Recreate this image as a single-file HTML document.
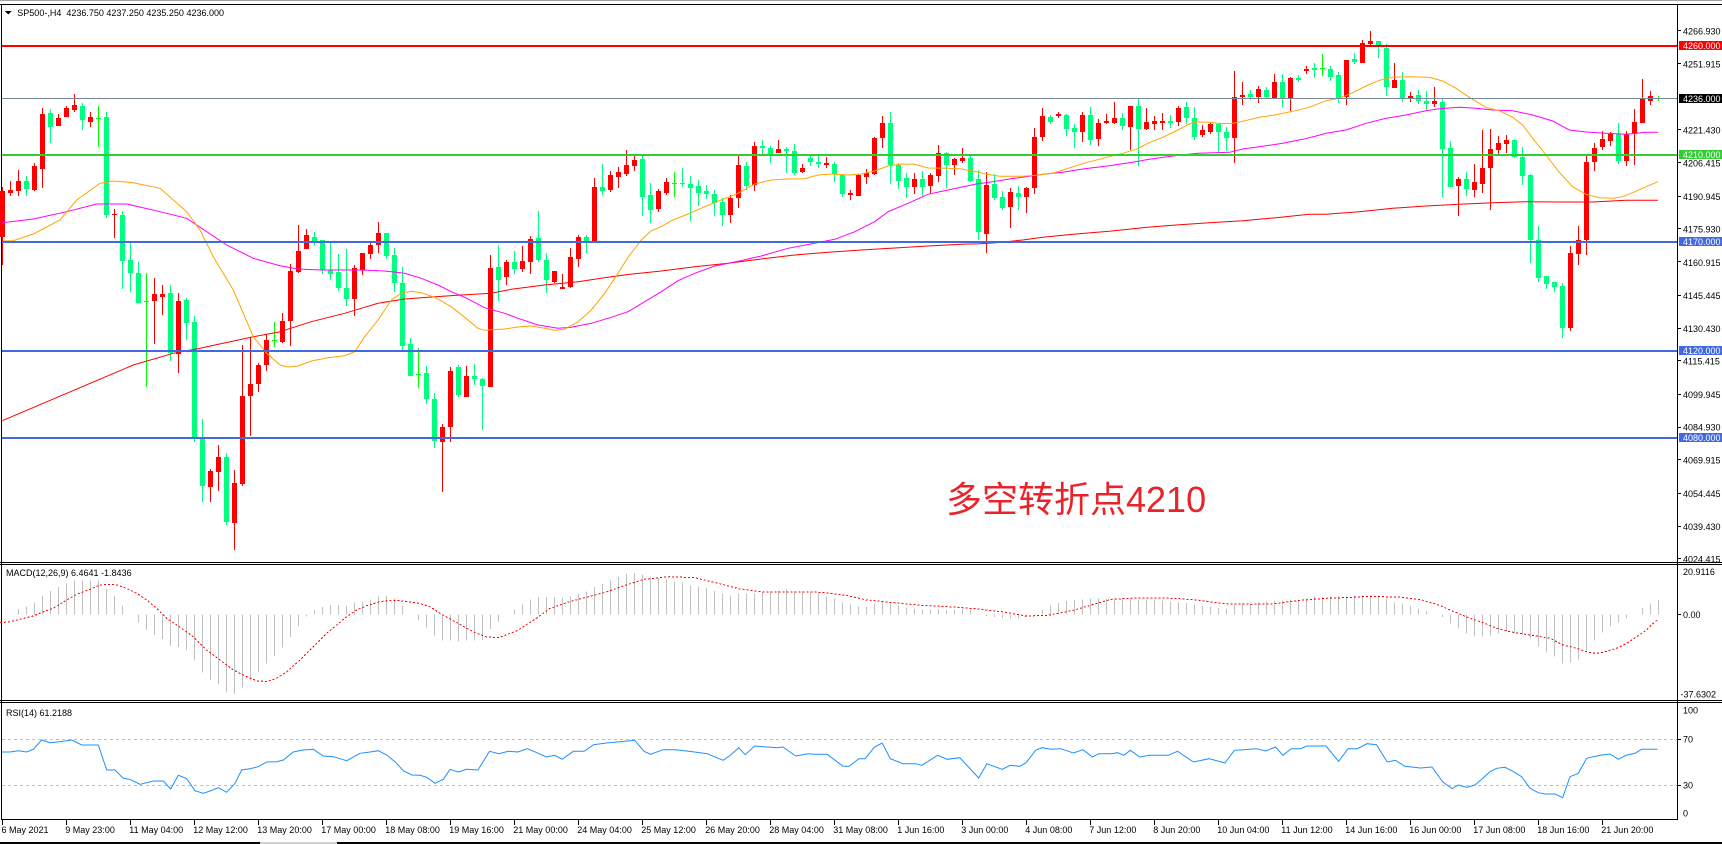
<!DOCTYPE html>
<html><head><meta charset="utf-8"><style>
html,body{margin:0;padding:0;background:#fff;}
svg{display:block;}
text{font-family:"Liberation Sans","Noto Sans CJK SC",sans-serif;font-size:9px;fill:#000;}
.w{fill:#fff;}
</style></head><body>
<svg id="S" width="1722" height="844" viewBox="0 0 1722 844" xmlns="http://www.w3.org/2000/svg" shape-rendering="crispEdges">
<rect x="0" y="0" width="1722" height="844" fill="#fff"/>
<rect x="0" y="0" width="1722" height="1" fill="#a0a0a0"/>
<rect x="0" y="4" width="1722" height="1" fill="#000"/>
<rect x="1" y="4" width="1" height="816" fill="#000"/>
<rect x="1677" y="4" width="1" height="816" fill="#000"/>
<rect x="0" y="562" width="1722" height="1" fill="#000"/>
<rect x="0" y="564" width="1722" height="1" fill="#000"/>
<rect x="0" y="700" width="1722" height="1" fill="#000"/>
<rect x="0" y="702" width="1722" height="1" fill="#000"/>
<rect x="1" y="819" width="1677" height="1" fill="#000"/>
<rect x="0" y="842" width="1722" height="2" fill="#000"/>
<rect x="260" y="842" width="77" height="2" fill="#d0d0d0"/>

<!-- header -->
<path d="M5 11 L11.5 11 L8.25 14.5 Z" fill="#000"/>
<text x="17.3" y="16" xml:space="preserve">SP500-,H4  4236.750 4237.250 4235.250 4236.000</text>

<g id="cand"></g>

<g fill="none" stroke-width="1" shape-rendering="auto">
<polyline stroke="#ff0000" points="2.3,420.7 66.7,393.3 133.3,365 173.3,353.3 200,348.3 253.3,336.7 279,332 311.3,321.7 344.7,313.3 378,303.3 404.7,299 428,297.3 461.3,295 491.3,293.3 511.3,289.3 544.7,285 578,281.7 611.3,276.7 630,274.3 661.3,271 694.7,266.7 728,263.3 761.3,259 794.7,255 828,252.3 861.3,250 894.7,248 928,246 961.3,244.3 980,243.7 996,242.7 1022.7,240 1042.7,237.3 1076,234 1109.3,231.3 1142.7,227.7 1176,225 1209.3,222.7 1242.7,220.7 1276,217.7 1309.3,214.3 1326,214.3 1359.3,211.7 1392.7,208.3 1426,206 1459.3,204.3 1492.7,202.7 1526,201.7 1559.3,202 1592.7,202 1626,200.3 1658,200.3"/>
<polyline stroke="#ff00ff" points="2.3,222.7 33.3,219 66.7,211.7 96.7,204 126.7,204 160,211.7 186.7,218.3 206.7,231.7 226.7,245 253.3,258.3 280,265.7 298,269 321.3,270 361.3,270 384.7,271 404.7,273.3 421.3,278.3 438,285 451.3,291.7 464.7,297.3 484.7,307.7 504.7,313.3 518,318.3 538,325 558,328.3 571.3,327.3 591.3,323.3 611.3,317.3 628,311.7 644.7,301.7 661.3,291.7 678,280.7 694.7,273.3 714.7,266 734.7,262 761.3,256 788,248.3 814.7,243.3 834.7,239.3 854.7,231.7 874.7,221.7 888,211.7 908,203.3 928,194.3 948,190 968,185.7 976,184 992.7,181.7 1009.3,179 1026,176.7 1042.7,174.3 1062.7,172.3 1082.7,169 1109.3,165.7 1129.3,162.7 1149.3,159.3 1172.7,156 1197.7,153.3 1229.3,152.3 1242.7,149 1262.7,146.3 1282.7,143.3 1302.7,139.3 1316,136 1326,133.3 1346,130 1366,123.3 1386,118.3 1406,115 1426,110.7 1439.3,108.7 1459.3,107.3 1476,108.3 1492.7,110 1512.7,110.7 1532.7,115 1552.7,121 1569.3,130 1586,132 1606,133.3 1626,134.3 1646,132.3 1658,132.3"/>
<polyline stroke="#ffa500" points="3,241 13.3,240.7 33.3,234 60,220 76.7,200 100,183.3 113.3,181 133.3,182.7 160,188.3 173.3,200 186.7,211.7 200,230 213.3,256.7 233.3,290 253.3,336.7 266.7,353.3 280,365 288,367 298,366 311.3,361 328,357.7 344.7,355.7 354.7,351.7 364.7,336.7 378,320 391.3,300 401.3,293.3 411.3,291.3 421.3,292.7 434.7,297.3 451.3,306.7 464.7,317.3 478,328.3 484.7,330.3 504.7,329 518,327 531.3,326 544.7,328.3 554.7,330.3 564.7,329.3 578,321.7 591.3,310 604.7,293.3 618,273.3 628,257.3 641.3,240 651.3,230.7 661.3,226.7 671.3,220.7 688,214 704.7,206.7 721.3,200 738,193.3 754.7,184 771.3,180 788,179 804.7,178.7 818,175 831.3,174 848,175 861.3,174 874.7,171 888,166 901.3,164 914.7,164.3 928,168 948,168.3 961.3,169 976,171.7 986,174 999.3,176.3 1022.7,176.3 1036,175.3 1052.7,173.3 1066,169 1086,162.7 1109.3,156.7 1122.7,153.3 1136,149.3 1142.7,146 1149.3,142.7 1162.7,137.3 1176,131 1189.3,124 1196,122 1209.3,122.3 1222.7,123.7 1232.7,123.3 1242.7,121.3 1259.3,117.3 1276,114.7 1292.7,111.3 1309.3,107.3 1319.3,103.3 1326,100.7 1339.3,98.3 1352.7,92.7 1366,86 1379.3,80.3 1392.7,77.3 1409.3,76.7 1429.3,77.3 1442.7,81 1456,88.3 1469.3,97.3 1486,107.3 1499.3,110.7 1512.7,117.3 1522.7,125 1532.7,138.3 1546,155 1559.3,172.3 1572.7,186.7 1586,194.3 1599.3,197.7 1612.7,198.3 1622.7,196.7 1632.7,192.7 1646,186.7 1658,181.7"/>
</g>

<!-- horizontal levels -->
<rect x="2" y="98" width="1675" height="1" fill="#778899"/>
<rect x="2" y="45" width="1675" height="2" fill="#ff0000"/>
<rect x="2" y="154" width="1675" height="2" fill="#32cd32"/>
<rect x="2" y="241" width="1675" height="2" fill="#4169e1"/>
<rect x="2" y="350" width="1675" height="2" fill="#4169e1"/>
<rect x="2" y="437" width="1675" height="2" fill="#4169e1"/>

<!-- big annotation -->
<text x="946" y="512" style="font-size:36px;fill:#e8232a;font-family:'Liberation Sans','Noto Sans CJK SC',sans-serif;">多空转折点4210</text>

<!-- price axis ticks -->
<g fill="#000">
<rect x="1677" y="30" width="4" height="1"/><rect x="1677" y="63" width="4" height="1"/>
<rect x="1677" y="129" width="4" height="1"/><rect x="1677" y="162" width="4" height="1"/>
<rect x="1677" y="196" width="4" height="1"/><rect x="1677" y="228" width="4" height="1"/>
<rect x="1677" y="261" width="4" height="1"/><rect x="1677" y="295" width="4" height="1"/>
<rect x="1677" y="328" width="4" height="1"/><rect x="1677" y="360" width="4" height="1"/>
<rect x="1677" y="394" width="4" height="1"/><rect x="1677" y="427" width="4" height="1"/>
<rect x="1677" y="459" width="4" height="1"/><rect x="1677" y="493" width="4" height="1"/>
<rect x="1677" y="526" width="4" height="1"/><rect x="1677" y="558" width="4" height="1"/>
<rect x="1677" y="614" width="4" height="1"/>
<rect x="1677" y="739" width="4" height="1"/><rect x="1677" y="785" width="4" height="1"/>
</g>
<text x="1683" y="34.5">4266.930</text>
<text x="1683" y="67.3">4251.915</text>
<text x="1683" y="133.4">4221.430</text>
<text x="1683" y="166.4">4206.415</text>
<text x="1683" y="199.8">4190.945</text>
<text x="1683" y="232.6">4175.930</text>
<text x="1683" y="265.8">4160.915</text>
<text x="1683" y="298.8">4145.445</text>
<text x="1683" y="331.8">4130.430</text>
<text x="1683" y="364.6">4115.415</text>
<text x="1683" y="398">4099.945</text>
<text x="1683" y="430.6">4084.930</text>
<text x="1683" y="463.6">4069.915</text>
<text x="1683" y="497">4054.445</text>
<text x="1683" y="530">4039.430</text>
<text x="1683" y="562.6">4024.415</text>

<!-- level labels -->
<rect x="1679" y="41" width="43" height="9" fill="#ff0000"/><text class="w" x="1683" y="49">4260.000</text>
<rect x="1679" y="94" width="43" height="9" fill="#000"/><text class="w" x="1683" y="102">4236.000</text>
<rect x="1679" y="150" width="43" height="9" fill="#32cd32"/><text class="w" x="1683" y="158">4210.000</text>
<rect x="1679" y="237" width="43" height="9" fill="#4169e1"/><text class="w" x="1683" y="245">4170.000</text>
<rect x="1679" y="346" width="43" height="9" fill="#4169e1"/><text class="w" x="1683" y="354">4120.000</text>
<rect x="1679" y="433" width="43" height="9" fill="#4169e1"/><text class="w" x="1683" y="441">4080.000</text>

<!-- MACD -->
<text x="6" y="576">MACD(12,26,9) 6.4641 -1.8436</text>
<g id="macd"></g>
<polyline fill="none" stroke="#ff0000" stroke-width="1" stroke-dasharray="2,2" points="0,622.7 10,621.7 20,619.3 33.3,616 43.3,611.7 53.3,608.3 66.7,600 76.7,594.3 90,589.3 100,585 110,584.3 116.7,585 126.7,588.3 136.7,593.3 146.7,600 156.7,608.3 166.7,618.3 180,627.3 193.3,636.7 206.7,650 220,660 233.3,670 246.7,676.7 256.7,680.7 266.7,681.7 276.7,678.3 286.7,671.7 300,660 313.3,646.7 326.7,633.3 336.7,625 346.7,616.7 356.7,610 366.7,605.7 380,601.7 390,600.3 400,600.7 416.7,602.7 430,606.7 440,613.3 453.3,620.7 466.7,628.3 476.7,633.3 486.7,637 498.9,637.7 517.9,630.3 536.8,618 549.4,608.7 568.4,602 587.3,597 606.3,592 625.2,585.3 644.1,579.3 669.4,576.7 694.6,577.7 719.9,583.7 738.8,588.7 764.1,592 795.7,592 820.9,592.3 846.2,595.3 865.1,599.7 896.7,603 921.9,605.3 953.5,607 978.7,609 1004,612 1026.1,616 1048.2,615.3 1073.4,610.3 1092.4,604.7 1111.3,599.3 1136.6,598 1174.5,598.3 1199.7,600.3 1225,603.7 1250.3,604.3 1275.5,603.7 1300.8,600.3 1326,598.3 1351.3,597.3 1370.2,596.3 1401.8,597.3 1420.7,599.7 1439.6,605.3 1450,610 1460,614 1470,618.3 1483.3,622.7 1496.7,628.3 1510,631.7 1523.3,634 1536.7,636 1550,638.3 1563.3,645 1576.7,648.3 1586.7,651.7 1593.3,653.3 1603.3,652.3 1616.7,648.3 1626.7,643.3 1636.7,636.7 1646.7,630 1653.3,623.3 1658.3,619.3"/>
<text x="1683" y="575">20.9116</text>
<text x="1683" y="618">0.00</text>
<text x="1680.5" y="697.3">-37.6302</text>

<!-- RSI -->
<text x="6" y="716">RSI(14) 61.2188</text>
<line x1="2" y1="739.5" x2="1677" y2="739.5" stroke="#c0c0c0" stroke-width="1" stroke-dasharray="3,3"/>
<line x1="2" y1="785.5" x2="1677" y2="785.5" stroke="#c0c0c0" stroke-width="1" stroke-dasharray="3,3"/>
<g id="rsi"></g>
<text x="1683" y="713.5">100</text>
<text x="1683" y="742.5">70</text>
<text x="1683" y="788.5">30</text>
<text x="1683" y="816.5">0</text>

<!-- time axis -->
<g id="tt" fill="#000"></g>
<text x="1.5" y="833">6 May 2021</text>
<text x="65.3" y="833">9 May 23:00</text>
<text x="129.3" y="833">11 May 04:00</text>
<text x="193.3" y="833">12 May 12:00</text>
<text x="257.3" y="833">13 May 20:00</text>
<text x="321.3" y="833">17 May 00:00</text>
<text x="385.3" y="833">18 May 08:00</text>
<text x="449.3" y="833">19 May 16:00</text>
<text x="513.3" y="833">21 May 00:00</text>
<text x="577.3" y="833">24 May 04:00</text>
<text x="641.3" y="833">25 May 12:00</text>
<text x="705.3" y="833">26 May 20:00</text>
<text x="769.3" y="833">28 May 04:00</text>
<text x="833.3" y="833">31 May 08:00</text>
<text x="897.3" y="833">1 Jun 16:00</text>
<text x="961.3" y="833">3 Jun 00:00</text>
<text x="1025.3" y="833">4 Jun 08:00</text>
<text x="1089.3" y="833">7 Jun 12:00</text>
<text x="1153.3" y="833">8 Jun 20:00</text>
<text x="1217.3" y="833">10 Jun 04:00</text>
<text x="1281.3" y="833">11 Jun 12:00</text>
<text x="1345.3" y="833">14 Jun 16:00</text>
<text x="1409.3" y="833">16 Jun 00:00</text>
<text x="1473.3" y="833">17 Jun 08:00</text>
<text x="1537.3" y="833">18 Jun 16:00</text>
<text x="1601.3" y="833">21 Jun 20:00</text>
</svg>
<script>
(function(){
var D="186.7 191 236.7 265 r|181 190 193.3 196 r|170 181 190.7 195.7 r|176 181 189 195.7 g|163.3 166 190 191 r|108.3 114 168.7 187.7 r|109.3 113 127 142.7 g|114 118 125.7 126 r|106 108.3 116.7 117 r|94 105 110 111.7 r|103.3 106 120 129.7 g|112.3 117 121.7 126.7 r|106 117.7 117.7 147 d|112 117 214.7 217.7 g|209 213.7 215.3 237.7 r|211.3 215 260.7 288.7 g|242.7 259.7 273 291.7 g|262.3 273 302.7 303 g|273.3 301.3 301.3 386.7 d|278 294 300.7 343.7 r|285.3 294 296.7 315 r|285.3 293 353.3 360.7 g|293.3 300.7 354 372.7 r|297.7 300 322.7 340 g|316 322 438.3 441.7 g|419 438.3 485.7 501.7 g|469 471 486.7 501.7 r|445 457 471.7 491 r|453.3 457 522 525 g|470 482.7 522.7 550 r|345 396 484 485.7 r|336.7 384 395.7 436 r|362.7 365 384 391.7 r|334 340 365 371 r|322 340 340 346.7 d|312.7 320.7 342 343.3 r|264 270.7 320.7 345.7 r|225 251 272 272.7 r|229 235 249 249 r|232 237 241.3 244.7 g|240.3 240.3 270.3 274 g|242.3 270.3 273.7 280 g|253.7 272 288 291 g|249 288 299 306 g|265 268 299 315.7 r|253 253 270 275 r|243 244.7 253.7 259 r|222 233 244.7 252.7 r|233 233 255.7 259 g|248 255 282.7 291.7 g|267 282.7 345.7 350 g|338 344 375.7 375.7 g|347.7 373.7 373.7 387.7 d|365.7 373 399 404.3 g|392.7 399 440.7 447.7 g|424 427 441.7 491.7 r|366.7 371 427 441.7 r|365 367 395 397 g|365.7 376 396.7 396.7 r|364 376 379 385 g|377.7 379 386 430 g|255 268 386.7 386.7 r|245 267 280 300.7 g|260 262 276.7 284.7 r|251 262 269 274 g|246 261 269 272.3 r|236 239 262 274 r|211 238 260 262 g|253 260 280 292.7 g|271 271 282 283.3 r|274 287 289 289 r|248 257 287.3 288 r|235 237 259 266.7 r|235 237 241.3 252.7 g|178 187 241.3 241.3 r|164 187 190.7 195 g|171 175 190 192 r|167.3 172 177 187.7 r|150 165 174 176 r|156 160 166 170.7 r|156 159 196.7 215.7 g|183 195 209.7 223 g|189 191 208.7 211.7 r|178 182 193 195 r|172 183.3 183.3 196.7 d|168 183 184.3 187.3 g|176 184 187.7 220.7 g|180 186 192.7 205.7 g|185 191 193.7 198.7 g|190 194 202.7 215.7 g|197.7 202 215 225.7 g|195 197.7 214.7 223 r|156 165 197.7 207.7 r|162 166 185.7 189.7 g|142 146 185 190.7 r|140 146 147.7 155 g|146 148 154 163 g|140 149 153 153 r|147 149 150.7 173 g|144 151 173 175 g|164 168 172 173 r|155 158 162 166 g|156 162 164 168 g|157 163 165 168 r|162 164 174 182 g|174 175 194 197 g|190 193 194.7 200 r|174 175 195.7 195.7 r|169 173.3 176.7 184 r|137 138 174 175 r|116 123 138 148 r|112 123 165 184 g|163 165 181 189 g|173 178 187 198 g|173 179 187 194 r|171 179 187 196 g|173.3 175.3 186 194 r|145 153 176 182 r|152 153 165 188 g|158 159 165 175 r|148 158 161 163 r|156 158 181 182 g|170 179.3 231.7 240 g|171.7 184.7 233.7 253.3 r|174.3 183.7 198 200 g|191 197 207.7 210 g|188.3 191.7 206.7 227.7 r|185.7 193 196.7 210 g|186.7 187.7 196.7 212.7 r|127.7 136.7 187.7 193.7 r|107.7 116 136.7 140.7 r|115 117 122 123.7 g|111.7 113.7 116 117.7 r|113.7 115 128.7 135.7 g|123.7 128 132 147.7 g|112 115 132 142 r|107 115 139.7 144.7 g|118.7 122.7 138.7 145.7 r|114 120.7 122.7 123.7 r|102 118 123 123.7 r|112.7 118 126 129.7 g|106 106 126.7 150 r|98 106 129 165.7 g|107.7 122 129 130 r|115.7 121 123.7 129.7 r|113 121 122.7 129.7 r|115 121 122.7 128 g|106 108 121.7 125.7 r|102 107 117.7 123.7 g|107 118 136.7 139.7 g|125 130 134.7 136.7 r|123 124 132 133.7 r|123 124 132 152 g|126.7 132 138 151 g|70.7 97 138 163 r|81.7 95 97 105 r|89.7 94 97 100 g|86 89 97 103 r|87 90 97 99 g|73.7 81.7 98.3 99.3 r|73.7 81.7 99 107 g|76.7 77.7 99 111 r|75 78 79.7 81.7 g|65.7 68.7 70.7 73.7 r|62.7 68 69.7 77.7 g|53.7 68 68 75.7 d|66 69.3 76.7 80.7 g|71.7 75 99 102.7 g|60 60 97.3 105 r|53 59 61.7 63.7 g|40 43 62.7 62.7 r|31 41 43.7 45.7 r|41 41 46.7 57.7 g|44 48 86.7 95.7 g|63 80 87.7 87.7 r|72 80 98.3 101.7 g|92 96 98.3 102.3 r|90.3 95 100.7 104.3 g|91 101 103.7 110 g|87 100.7 103.7 107.3 r|99 102 149 197 g|141 147.7 186.7 186.7 g|177 179 186 216 r|172 179 189 195.7 g|163.7 181.7 190 196.7 r|130 168 184 192.7 r|128.7 149 168 210 r|136 143 150 154 r|134.7 139.7 144 152.7 r|138.7 139.7 156.7 157.7 g|147 156.7 175.7 185 g|173.7 174.7 240 262.7 g|226 240 277.7 281.7 g|275.7 275.7 283.7 288.7 g|282 282 286.7 291.7 g|283 285.7 327.7 337.7 g|246 253 327.7 330.7 r|226 240 253.7 264.7 r|155 162 240 255 r|143 148 162 171 r|131 139 147 150 r|132 133.7 141 146 r|123 133.7 161 164 g|131 134 161 165.7 r|109 122 134 165 r|79 99 123 123 r|91 96 100.7 105 r|96 97.7 97.7 100.7 d";
var R=Math.round, s='';
D.split('|').forEach(function(t,k){
 var a=t.split(' '),h=+a[0],o=+a[1],b=+a[2],l=+a[3],c=a[4];
 var col=c=='r'?'#ff0000':(c=='d'?'#00ff00':'#00ff7f');
 var x=8*k;
 var y1=R(h),y2=R(l); if(y2<=y1)y2=y1+1;
 s+='<rect x="'+(x+2)+'" y="'+y1+'" width="1" height="'+(y2-y1)+'" fill="'+col+'"/>';
 var t1=R(o),t2=R(b); if(t2-t1<1)t2=t1+1;
 s+='<rect x="'+x+'" y="'+t1+'" width="5" height="'+(t2-t1)+'" fill="'+col+'"/>';
});
document.getElementById('cand').innerHTML=s;

var M=[614,615,609,606.7,602.3,596,591,587,583.7,580.7,580.3,580.3,580.3,589,596,606,614,622.7,630,635,639,646,647,650,660.7,672.7,680,684,692.3,694,687.7,680.7,672.7,663.7,656,647.7,637,626,616.7,610,607,605,605,606,602.7,601.7,599.3,596.7,596,598.3,606,614,620,627.3,635.7,640.7,640.7,641.7,640.7,640.7,640,629,622,614.7,609.7,604.3,599.7,597,597,597,598,596.3,594,591.3,587,584,580.3,577,574,573,574.7,577,578,579.3,581.3,582.7,585.3,586.3,588,591,593.7,595.3,593.7,593.7,593.3,592,591.3,590.3,589.7,591.3,591.3,592.7,593.7,596.3,598.7,602.7,604.7,606.3,606.3,603.7,602,603.7,606,607.3,608.7,609.3,609.3,609,610,609.7,608.7,609.7,615,616,617,618,618.7,618.7,617,614,609.7,605.3,603,601,600,599.3,598.7,598.7,598.7,598.7,598.7,598.7,599.3,599.7,599.7,600.3,601.3,602,603,604.3,606,606.3,608,608.7,605.3,603.7,602.7,602,601.3,601,600.3,599.7,599.3,598,596.7,597,596.7,596.3,596.3,595.7,595.3,595,595.3,598.7,602.7,603.7,606,608.7,611.3,613.7,617,623.3,628.3,633.3,636.7,636.7,635.7,633.3,631.7,633.3,635,638.3,646.7,652.7,656.7,663.3,662.3,659.3,650,640.7,632.7,626,622.7,618,614.3,608,603.3,600];
var z=614.5,m='';
M.forEach(function(v,k){
 var a=Math.min(v,z),b=Math.max(v,z);
 if(b-a<0.8)return;
 m+='<rect x="'+(8*k+2)+'" y="'+a.toFixed(1)+'" width="1" height="'+(b-a).toFixed(1)+'" fill="#c0c0c0"/>';
});
document.getElementById('macd').innerHTML=m;

var rA=[[2,752],[10,752],[18.3,750.7],[26.7,752],[33.3,749.3],[41.7,740],[50,742.7],[60,741.7],[71.7,740],[81.7,745],[98.3,745],[106.7,770],[115,770],[123.3,778.3],[130,779.3],[140,784.3],[153.3,781],[163.3,781],[170.7,789],[178.3,775.3],[186.7,778.7],[195,790.7],[203.3,793.3],[210,791],[218.3,787.7],[226.7,792.3],[235,783.3],[241.7,770],[250,768.7],[258.3,766.7],[266.7,762],[276.7,761.7],[283.3,760],[293.3,752],[303.3,750],[313.3,749.3],[323.3,756],[333.3,756.7],[346.7,760.7],[360,753.3],[370,752],[378.3,750.7],[386.7,755],[395,761.7],[403.3,770.7],[411.7,775],[420,775.3],[426.7,777.3],[435,783.3],[443.3,779.3],[450,769.3],[458.3,772],[466.7,769.3],[478,770]];
var rB=[[15,568],[30,575],[45,568],[60,570],[75,560],[90,572],[105,585],[118,580],[130,592],[148,568],[165,568],[180,548],[200,543],[230,538],[245,535],[260,568],[270,577],[290,563],[310,563],[340,570],[360,575],[385,595],[395,582],[410,557],[420,578],[435,552],[455,555],[470,557],[480,555],[500,582],[520,575],[530,577],[550,577],[575,613],[585,613],[600,590],[610,590],[625,555],[637,543],[650,590],[670,605],[690,605],[700,610],[725,580],[740,592],[760,587],[790,648],[803,605],[827,622],[840,610],[855,613],[865,602],[880,565],[890,557],[905,562],[920,560],[940,573],[955,563],[970,585],[980,575],[1000,575],[1010,572],[1020,580],[1030,565],[1045,585],[1060,580],[1090,580],[1105,568],[1130,600],[1155,590],[1180,603],[1195,565],[1210,563],[1230,560],[1245,567],[1260,555],[1272,580],[1285,560],[1300,560],[1310,552],[1340,552],[1360,598],[1375,560],[1390,560],[1405,545],[1420,548],[1437,600],[1450,595],[1465,613],[1490,618],[1508,615],[1525,660],[1540,680]].map(function(p){return [480+p[0]/1.584,562+p[1]/3];});
var rC=[[25,795],[50,802],[75,795],[95,778],[120,755],[140,745],[165,742],[185,752],[215,770],[240,805],[265,818],[285,822],[315,822],[338,833],[360,770],[385,760],[410,715],[430,710],[455,705],[480,702],[505,718],[530,705],[555,700],[575,688],[600,688],[622,688]].map(function(p){return [1450+p[0]/3,520+p[1]/3];});
var pts=rA.concat(rB,rC).map(function(p){return p[0].toFixed(1)+','+p[1].toFixed(1);}).join(' ');
document.getElementById('rsi').innerHTML='<polyline fill="none" stroke="#1e90ff" stroke-width="1" shape-rendering="auto" points="'+pts+'"/>';

var tt='';
for(var i=0;i<26;i++){tt+='<rect x="'+(2+64*i)+'" y="820" width="1" height="5"/>';}
document.getElementById('tt').innerHTML=tt;
})();
</script>
</body></html>
